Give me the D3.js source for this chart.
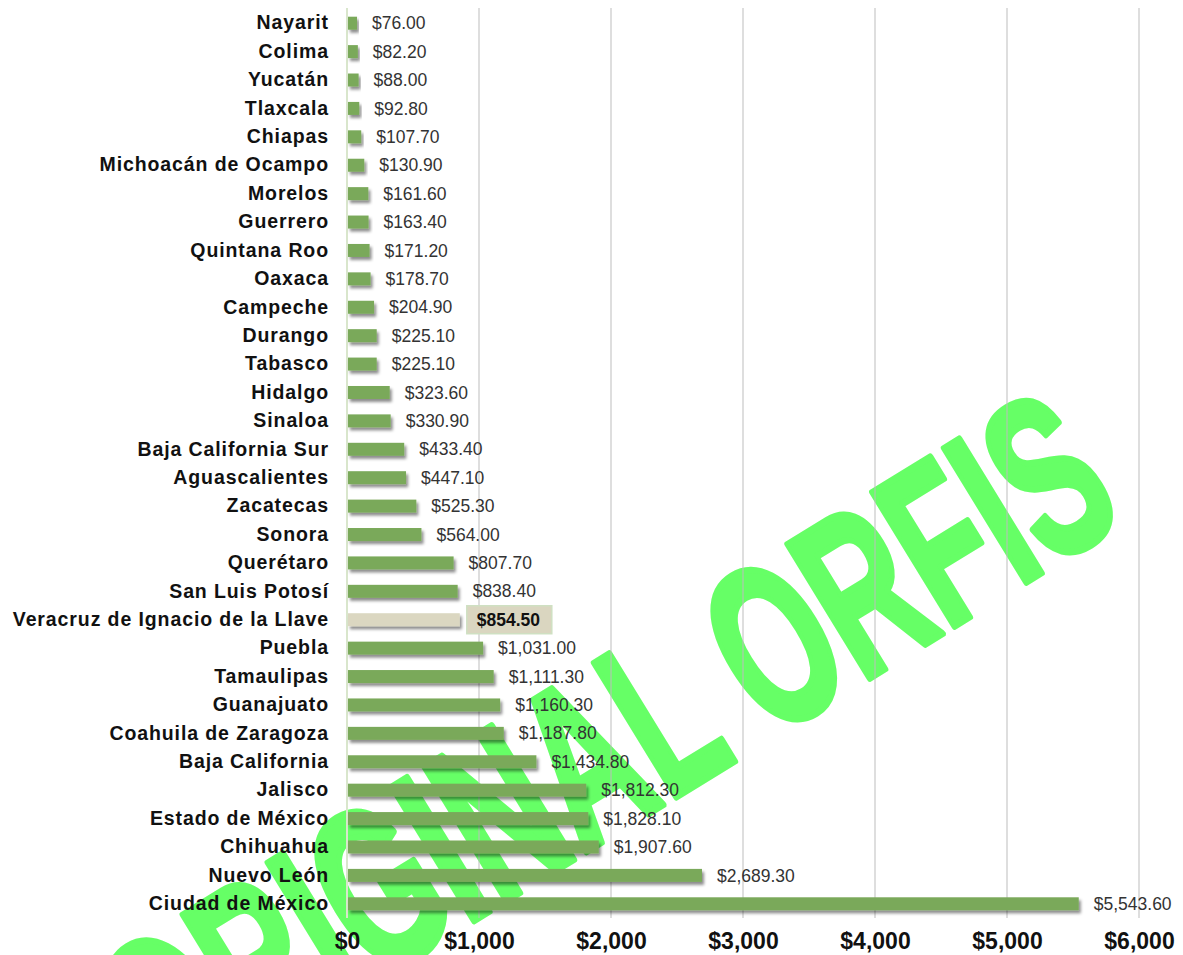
<!DOCTYPE html>
<html>
<head>
<meta charset="utf-8">
<script src="https://cdn.jsdelivr.net/npm/d3@7"></script>
<style>
  body { margin: 0; background: #fff; }
  svg { display: block; font-family: "Liberation Sans", Arial, sans-serif; }
</style>
</head>
<body>
<div id="viz"></div>
<script>
// datos por entidad (pesos)
const states = [
  "Nayarit", "Colima", "Yucatán", "Tlaxcala", "Chiapas", "Michoacán de Ocampo",
  "Morelos", "Guerrero", "Quintana Roo", "Oaxaca", "Campeche", "Durango",
  "Tabasco", "Hidalgo", "Sinaloa", "Baja California Sur", "Aguascalientes",
  "Zacatecas", "Sonora", "Querétaro", "San Luis Potosí",
  "Veracruz de Ignacio de la Llave", "Puebla", "Tamaulipas", "Guanajuato",
  "Coahuila de Zaragoza", "Baja California", "Jalisco", "Estado de México",
  "Chihuahua", "Nuevo León", "Ciudad de México"
];
const values = [
  76.0, 82.2, 88.0, 92.8, 107.7, 130.9,
  161.6, 163.4, 171.2, 178.7, 204.9, 225.1,
  225.1, 323.6, 330.9, 433.4, 447.1,
  525.3, 564.0, 807.7, 838.4,
  854.5, 1031.0, 1111.3, 1160.3,
  1187.8, 1434.8, 1812.3, 1828.1,
  1907.6, 2689.3, 5543.6
];
const highlight = "Veracruz de Ignacio de la Llave";
const xTicks = [0, 1000, 2000, 3000, 4000, 5000, 6000];
const watermark = "ORIGINAL ORFIS";

const width = 1183;
const height = 955;

const data = states.map((s, i) => ({ state: s, value: values[i] }));

const svg = d3.select("#viz")
  .append("svg")
  .attr("width", width)
  .attr("height", height);

svg.append("rect").attr("width", width).attr("height", height).attr("fill", "#fff");

const defs = svg.append("defs");
defs.append("filter")
  .attr("id", "shadow")
  .attr("x", "-10%").attr("y", "-50%")
  .attr("width", "130%").attr("height", "250%")
  .append("feDropShadow")
  .attr("dx", 2).attr("dy", 3)
  .attr("stdDeviation", 1.6)
  .attr("flood-color", "#000")
  .attr("flood-opacity", 0.45);

const x = d3.scaleLinear().domain([0, 6000]).range([347, 1139]);
const y = d3.scaleBand().domain(states).range([9, 918]);
const barH = 13;

// marca de agua (detrás del gráfico)
svg.append("text")
  .attr("transform", "translate(165,1110) rotate(-31.5)")
  .attr("x", 0).attr("y", 0)
  .attr("font-size", 228)
  .attr("font-weight", "bold")
  .attr("fill", "#66ff66")
  .attr("stroke", "#66ff66")
  .attr("stroke-width", 7)
  .attr("stroke-linejoin", "round")
  .attr("textLength", 1130)
  .attr("lengthAdjust", "spacingAndGlyphs")
  .text(watermark);

// rejilla
svg.append("g")
  .selectAll("line")
  .data(xTicks.filter(d => d > 0))
  .enter()
  .append("line")
  .attr("x1", d => x(d)).attr("x2", d => x(d))
  .attr("y1", 8).attr("y2", 918)
  .attr("stroke", "#bdbdbd")
  .attr("stroke-width", 1);

svg.append("line")
  .attr("x1", x(0)).attr("x2", x(0))
  .attr("y1", 8).attr("y2", 918)
  .attr("stroke", "#d9e6cc")
  .attr("stroke-width", 2);

// barras
svg.append("g")
  .selectAll("rect")
  .data(data)
  .enter()
  .append("rect")
  .attr("x", x(0) + 1)
  .attr("y", d => y(d.state) + y.bandwidth() / 2 - barH / 2)
  .attr("width", d => x(d.value) - x(0) - 1)
  .attr("height", barH)
  .attr("fill", d => d.state === highlight ? "#dbd7c1" : "#7aa95a")
  .attr("filter", "url(#shadow)");

// etiquetas de valor
const fmt = d3.format(",.2f");
const hl = data.find(d => d.state === highlight);

svg.append("rect")
  .attr("x", x(hl.value) + 7)
  .attr("y", y(hl.state) + y.bandwidth() / 2 - 14)
  .attr("width", 85)
  .attr("height", 28)
  .attr("fill", "#dad6c0")
  .attr("stroke", "#cfe0c2")
  .attr("stroke-width", 1.5);

svg.append("g")
  .selectAll("text")
  .data(data)
  .enter()
  .append("text")
  .attr("x", d => x(d.value) + (d.state === highlight ? 17 : 15))
  .attr("y", d => y(d.state) + y.bandwidth() / 2)
  .attr("dy", "0.35em")
  .attr("font-size", 17.5)
  .attr("font-weight", d => d.state === highlight ? "bold" : "normal")
  .attr("fill", d => d.state === highlight ? "#111" : "#333")
  .text(d => "$" + fmt(d.value));

// eje de categorías
const yAxis = svg.append("g")
  .attr("transform", `translate(${x(0)},0)`)
  .call(d3.axisLeft(y).tickSize(0).tickPadding(18));
yAxis.select(".domain").remove();
yAxis.selectAll("text")
  .attr("font-size", 19.5)
  .attr("font-weight", "bold")
  .attr("letter-spacing", 0.9)
  .attr("fill", "#111")
  .style("font-family", "'Liberation Sans', Arial, sans-serif");

// eje de valores
const xAxis = svg.append("g")
  .attr("transform", "translate(0,930)")
  .call(d3.axisBottom(x).tickValues(xTicks).tickSize(0).tickPadding(3)
    .tickFormat(d => "$" + d3.format(",")(d)));
xAxis.select(".domain").remove();
xAxis.selectAll("text")
  .attr("font-size", 23)
  .attr("font-weight", "bold")
  .attr("fill", "#111")
  .style("font-family", "'Liberation Sans', Arial, sans-serif");
</script>
</body>
</html>
